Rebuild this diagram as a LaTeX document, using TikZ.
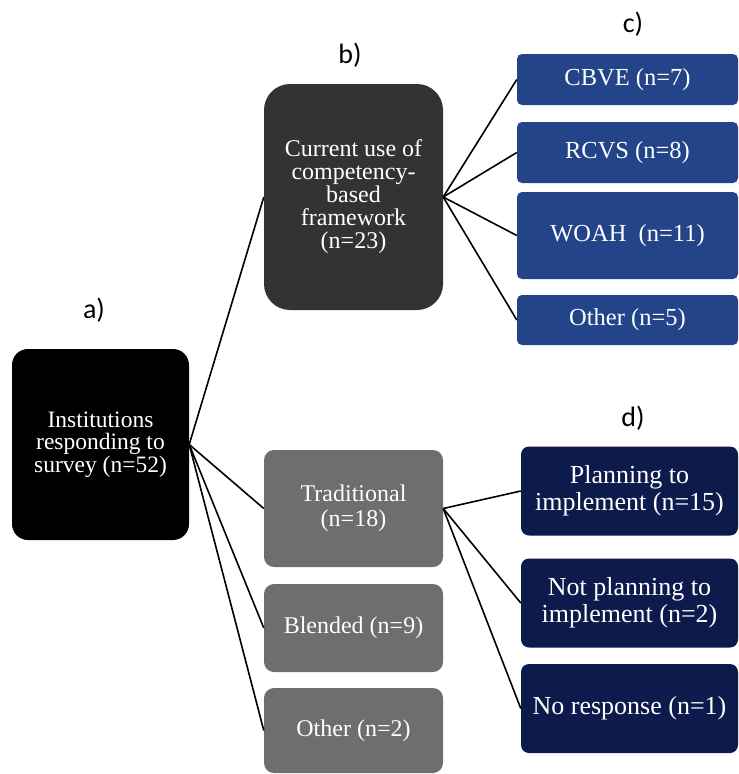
\documentclass[tikz,border=0pt]{standalone}
\usepackage{fontspec}
\setmainfont{Liberation Serif}
\newfontfamily\tagfont{Carlito}
\definecolor{rootbg}{HTML}{000000}
\definecolor{curbg}{HTML}{333333}
\definecolor{graybg}{HTML}{6E6E6E}
\definecolor{cbg}{HTML}{244489}
\definecolor{dbg}{HTML}{0C1A4C}
\tikzset{
  box/.style={text=white, align=center, inner sep=2pt},
  rootbox/.style={box, fill=rootbg, rounded corners=16pt, minimum width=177pt, minimum height=191pt, font=\fontsize{23.5}{22.5}\selectfont},
  curbox/.style={box, fill=curbg, rounded corners=26pt, minimum width=179pt, minimum height=226pt, font=\fontsize{24}{23}\selectfont},
  graybox/.style={box, fill=graybg, rounded corners=10pt, minimum width=179pt, font=\fontsize{24}{25}\selectfont},
  cbox/.style={box, fill=cbg, rounded corners=5pt, minimum width=221pt, font=\fontsize{24.5}{26}\selectfont},
  dbox/.style={box, fill=dbg, rounded corners=8pt, minimum width=217pt, minimum height=89pt, font=\fontsize{26}{27}\selectfont},
  link/.style={draw=black, line width=1.6pt},
  tag/.style={font=\tagfont\fontsize{28}{32}\selectfont}
}
\begin{document}
\begin{tikzpicture}[x=1pt, y=-1pt]
  \path[use as bounding box] (0,0) rectangle (739,774);
  \node[rootbox] (inst) at (100.5,444.5) {Institutions\\responding to\\survey (n=52)};
  \node[curbox] (cur) at (353.5,197) {Current use of\\competency-\\based\\framework\\(n=23)};
  \node[graybox, minimum height=117pt] (trad) at (353.5,508.5) {Traditional\\(n=18)};
  \node[graybox, minimum height=88pt] (blend) at (353.5,628) {Blended (n=9)};
  \node[graybox, minimum height=85pt] (othb) at (353.5,730.5) {Other (n=2)};
  \node[cbox, minimum height=51pt] (cbve) at (627.5,79.5) {CBVE (n=7)};
  \node[cbox, minimum height=61pt] (rcvs) at (627.5,152.5) {RCVS (n=8)};
  \node[cbox, minimum height=87pt] (woah) at (627.5,235.5) {WOAH\ \ (n=11)};
  \node[cbox, minimum height=50pt] (othc) at (627.5,320) {Other (n=5)};
  \node[dbox] (plan) at (629.5,491) {Planning to\\implement (n=15)};
  \node[dbox] (notplan) at (629.5,603) {Not planning to\\implement (n=2)};
  \node[dbox] (nores) at (629.5,708.5) {No response (n=1)};
  \node[tag] (la) at (94,310) {a)};
  \node[tag] (lb) at (350,55) {b)};
  \node[tag] (lc) at (633,24) {c)};
  \node[tag] (ld) at (633,418) {d)};
  \draw[link] (inst.east) -- (cur.west);
  \draw[link] (inst.east) -- (trad.west);
  \draw[link] (inst.east) -- (blend.west);
  \draw[link] (inst.east) -- (othb.west);
  \draw[link] (cur.east) -- (cbve.west);
  \draw[link] (cur.east) -- (rcvs.west);
  \draw[link] (cur.east) -- (woah.west);
  \draw[link] (cur.east) -- (othc.west);
  \draw[link] (trad.east) -- (plan.west);
  \draw[link] (trad.east) -- (notplan.west);
  \draw[link] (trad.east) -- (nores.west);
\end{tikzpicture}
\end{document}
